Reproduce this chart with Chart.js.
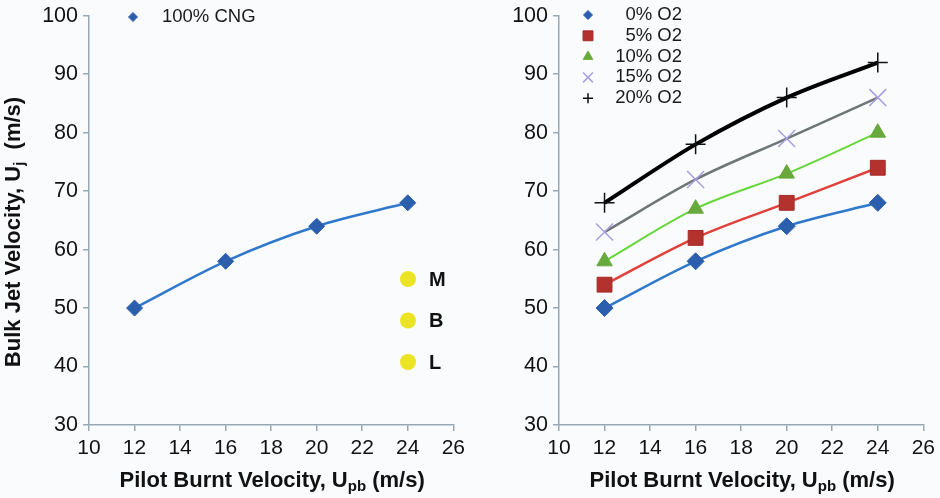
<!DOCTYPE html>
<html>
<head>
<meta charset="utf-8">
<script src="https://cdn.jsdelivr.net/npm/chart.js@4.4.1/dist/chart.umd.min.js"></script>
<style>
  html, body { margin: 0; padding: 0; background: #fafbfd; }
  #wrap { position: relative; width: 940px; height: 498px; }
  #wrap canvas { position: absolute; top: 0; }
</style>
</head>
<body>
<div id="wrap">
  <canvas id="cngChart" width="470" height="498" style="left:0"></canvas>
  <canvas id="o2Chart" width="470" height="498" style="left:470px"></canvas>
</div>
<script>
// Bulk jet velocity vs pilot burnt velocity
const pilotVel = [12, 16, 20, 24];
const cng100 = [50, 58, 64, 68];
const o2Names = ['0% O2', '5% O2', '10% O2', '15% O2', '20% O2'];
const o2Pct0 = [50, 58, 64, 68];
const o2Pct5 = [54, 62, 68, 74];
const o2Pct10 = [58, 67, 73, 80];
const o2Pct15 = [63, 72, 79, 86];
const o2Pct20 = [68, 78, 86, 92];
const xRange = [10, 26, 2];
const yRange = [30, 100, 10];
const bandLabels = ['M', 'B', 'L'];

const FONT = '"Liberation Sans", Arial, sans-serif';
const AXIS = '#97a8b6';

// titles with subscripts: parts = [[text, isSub], ...]
function richText(ctx, parts, cx, cy) {
  const big = 'bold 22px ' + FONT, small = 'bold 15px ' + FONT;
  let w = 0;
  parts.forEach(([t, sub]) => { ctx.font = sub ? small : big; w += ctx.measureText(t).width; });
  let x = cx - w / 2;
  ctx.textBaseline = 'middle';
  ctx.textAlign = 'left';
  parts.forEach(([t, sub]) => {
    ctx.font = sub ? small : big;
    ctx.fillText(t, x, sub ? cy + 6 : cy);
    x += ctx.measureText(t).width;
  });
}

const decor = {
  id: 'decor',
  afterDraw(chart, args, opts) {
    const ctx = chart.ctx, ca = chart.chartArea;
    ctx.save();
    ctx.fillStyle = '#111';
    richText(ctx, [['Pilot Burnt Velocity, U', false], ['pb', true], [' (m/s)', false]], (ca.left + ca.right) / 2 + 1, 481);
    if (opts.yTitle) {
      ctx.save();
      ctx.translate(14, 232);
      ctx.rotate(-Math.PI / 2);
      richText(ctx, [['Bulk Jet Velocity, U', false], ['j', true], ['  (m/s)', false]], 0, 0);
      ctx.restore();
    }
    // legend entries
    const lg = opts.legend;
    ctx.font = '18.5px ' + FONT;
    ctx.textBaseline = 'middle';
    chart.data.datasets.forEach((ds, i) => {
      const y = lg.y + i * lg.dy;
      ctx.fillStyle = ds.pointBackgroundColor;
      ctx.strokeStyle = ds.pointBorderColor;
      ctx.lineWidth = ds.pointBorderWidth;
      Chart.helpers.drawPoint(ctx, { pointStyle: ds.pointStyle, radius: ds.legendRadius, rotation: 0, borderWidth: ds.pointBorderWidth }, lg.x, y);
      ctx.fillStyle = '#1a1a1a';
      ctx.textAlign = lg.align;
      ctx.fillText(ds.label, lg.textX, y);
    });
    // M / B / L markers
    if (opts.bands) {
      bandLabels.forEach((b, i) => {
        const y = 279 + i * 41.5;
        ctx.beginPath();
        ctx.arc(408, y, 8, 0, Math.PI * 2);
        ctx.fillStyle = '#ece324';
        ctx.fill();
        ctx.fillStyle = '#111';
        ctx.font = 'bold 20px ' + FONT;
        ctx.textAlign = 'left';
        ctx.fillText(b, 429, y + 1);
      });
    }
    ctx.restore();
  }
};

function series(label, data, line, fill, border, style, r, lr, lw, bw) {
  return {
    label, data: data.map((v, i) => ({ x: pilotVel[i], y: v })),
    borderColor: line, borderWidth: lw,
    pointBackgroundColor: fill, pointBorderColor: border,
    pointBorderWidth: bw, pointStyle: style, pointRadius: r, legendRadius: lr,
    cubicInterpolationMode: 'monotone', fill: false
  };
}

function makeChart(id, datasets, decorOpts) {
  return new Chart(document.getElementById(id), {
    type: 'line',
    data: { datasets },
    plugins: [decor],
    options: {
      responsive: false, animation: false, devicePixelRatio: 1,
      layout: { padding: { left: 0, top: 13, right: 16, bottom: 0 } },
      plugins: { legend: { display: false }, tooltip: { enabled: false }, decor: decorOpts },
      scales: {
        x: {
          type: 'linear', min: xRange[0], max: xRange[1],
          afterFit: (s) => { s.height = 73; },
          ticks: { stepSize: xRange[2], padding: 5, color: '#111', font: { family: FONT, size: 21 } },
          grid: { drawOnChartArea: false, tickLength: 6, color: AXIS, lineWidth: 1.5 },
          border: { color: AXIS, width: 1.5 }
        },
        y: {
          min: yRange[0], max: yRange[1],
          afterFit: (s) => { s.width = 89; },
          ticks: { stepSize: yRange[2], padding: 5, color: '#111', font: { family: FONT, size: 21.5, lineHeight: 1 } },
          grid: { drawOnChartArea: false, tickLength: 6, color: AXIS, lineWidth: 1.5 },
          border: { color: AXIS, width: 1.5 }
        }
      }
    }
  });
}

makeChart('cngChart', [
  series('100% CNG', cng100, '#2f78cc', '#2b5fad', '#2b5fad', 'rectRot', 8, 4.5, 2.5, 1)
], { yTitle: true, bands: true, legend: { x: 133, y: 17, dy: 0, textX: 162, align: 'left' } });

makeChart('o2Chart', [
  series(o2Names[0], o2Pct0, '#2f78cc', '#2b5fad', '#2b5fad', 'rectRot', 8.5, 4.5, 2.5, 1),
  series(o2Names[1], o2Pct5, '#e0423b', '#b3322e', '#a52a26', 'rect', 10.5, 7, 2.5, 1),
  series(o2Names[2], o2Pct10, '#66d63a', '#67a93b', '#67a93b', 'triangle', 9, 5.5, 2, 1),
  series(o2Names[3], o2Pct15, '#6f7676', 'rgba(0,0,0,0)', '#a69ee2', 'crossRot', 12, 7, 2.5, 1.5),
  series(o2Names[4], o2Pct20, '#000000', 'rgba(0,0,0,0)', '#111111', 'cross', 10, 5, 4, 1.5)
], { yTitle: false, bands: false, legend: { x: 118, y: 15, dy: 20.8, textX: 212, align: 'right' } });
</script>
</body>
</html>
